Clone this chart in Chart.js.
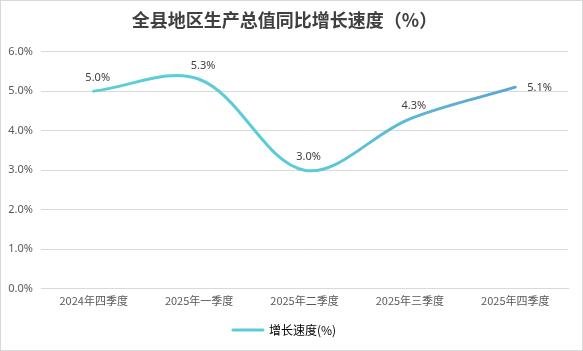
<!DOCTYPE html>
<html>
<head>
<meta charset="utf-8">
<script src="https://cdn.jsdelivr.net/npm/chart.js@4/dist/chart.umd.min.js"></script>
<style>
    body{margin:0;background:#fff;}
    #wrap{width:583px;height:351px;box-sizing:border-box;border:1px solid #d9d9d9;background:#fff;}
</style>
</head>
<body>
<div id="wrap"><canvas id="growth_chart" width="581" height="349"></canvas></div>
<script>
let quarters = ["2024年四季度", "2025年一季度", "2025年二季度", "2025年三季度", "2025年四季度"];
let growth = [5.0, 5.3, 3.0, 4.3, 5.1];
let yTicks = [0, 1, 2, 3, 4, 5, 6];
let seriesName = "增长速度(%)";
let chartTitle = "全县地区生产总值同比增长速度（%）";

const numFont = "'Noto Sans', 'Noto Sans CJK SC', sans-serif";
const cjkFont = "'Noto Sans CJK SC', 'Noto Sans', sans-serif";

// teal on the left fading into blue on the right
function lineGradient(ctx, left, right){
    let g = ctx.createLinearGradient(left, 0, right, 0);
    g.addColorStop(0, "#5ccfd5");
    g.addColorStop(0.5, "#5ccbd6");
    g.addColorStop(1, "#5b9bd5");
    return g;
}

// value labels above each point, last one sits to the right
const valueLabels = {
    id: "valueLabels",
    afterDatasetsDraw(chart){
        let ctx = chart.ctx;
        let meta = chart.getDatasetMeta(0);
        ctx.save();
        ctx.font = "11px " + numFont;
        ctx.fillStyle = "#404040";
        ctx.textBaseline = "middle";
        meta.data.forEach(function(pt, i){
            let txt = growth[i].toFixed(1) + "%";
            if(i === growth.length - 1){
                ctx.textAlign = "left";
                ctx.fillText(txt, pt.x + 12, pt.y + 1);
            } else {
                ctx.textAlign = "center";
                ctx.fillText(txt, pt.x + 4, pt.y - 13);
            }
        });
        ctx.restore();
    }
};

let ctx = document.getElementById("growth_chart").getContext("2d");
let legendGrad = null;

new Chart(ctx, {
    type: "line",
    data: {
        labels: quarters,
        datasets: [{
            label: seriesName,
            data: growth,
            borderColor: function(c){
                let area = c.chart.chartArea;
                if(!area){ return "#5ccfd5"; }
                return lineGradient(c.chart.ctx, area.left, area.right);
            },
            borderWidth: 3,
            borderCapStyle: "round",
            tension: 0.35,
            pointRadius: 0,
            pointHoverRadius: 0,
            fill: false
        }]
    },
    options: {
        responsive: false,
        animation: false,
        layout: {padding: {left: 0, right: 14, top: 0, bottom: 4}},
        scales: {
            x: {
                offset: true,
                grid: {display: false, drawTicks: false},
                border: {display: true, color: "#d9d9d9", width: 1},
                ticks: {color: "#595959", font: {family: cjkFont, size: 11}, padding: 5, maxRotation: 0}
            },
            y: {
                min: 0,
                max: 6,
                afterFit: function(scale){ scale.width = 40; },
                afterBuildTicks: function(scale){
                    scale.ticks = yTicks.map(function(v){ return {value: v}; });
                },
                grid: {color: "#d9d9d9", drawTicks: false},
                border: {display: false},
                ticks: {
                    color: "#595959",
                    font: {family: numFont, size: 11},
                    padding: 8,
                    callback: function(v){ return v.toFixed(1) + "%"; }
                }
            }
        },
        plugins: {
            title: {
                display: true,
                text: chartTitle,
                color: "#404040",
                font: {family: cjkFont, size: 18, weight: "bold"},
                padding: {top: 8, bottom: 21}
            },
            legend: {
                position: "bottom",
                labels: {
                    usePointStyle: true,
                    pointStyleWidth: 30,
                    boxWidth: 30,
                    boxHeight: 12,
                    padding: 12,
                    color: "#595959",
                    font: {family: cjkFont, size: 12},
                    generateLabels: function(chart){
                        if(!legendGrad){
                            legendGrad = lineGradient(chart.ctx, 0, chart.width);
                        }
                        return [{
                            text: seriesName,
                            strokeStyle: legendGrad,
                            fillStyle: legendGrad,
                            lineWidth: 3,
                            lineCap: "round",
                            pointStyle: "line",
                            hidden: false,
                            datasetIndex: 0
                        }];
                    }
                }
            },
            tooltip: {enabled: false}
        }
    },
    plugins: [valueLabels]
});
</script>
</body>
</html>
